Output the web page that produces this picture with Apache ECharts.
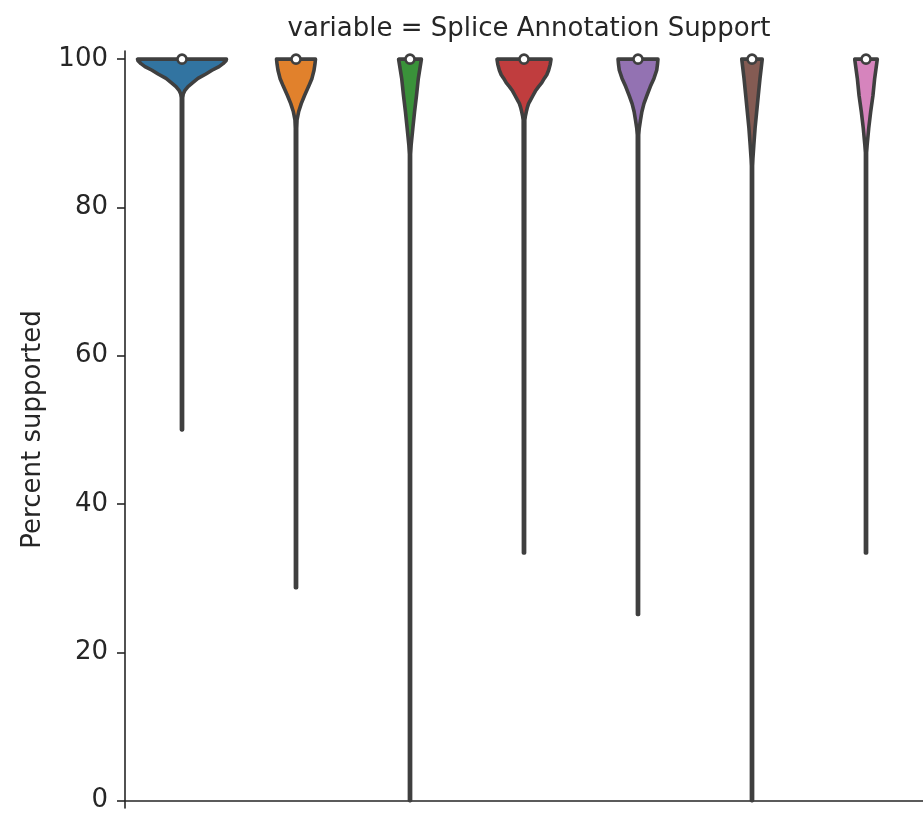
<!DOCTYPE html>
<html><head><meta charset="utf-8">
<script src="https://cdn.jsdelivr.net/npm/echarts@6/dist/echarts.min.js"></script>
<style>html,body{margin:0;padding:0;background:#fff}#c{width:923px;height:814px}</style>
</head><body><div id="c"></div>
<script>
// categories (x tick labels are not visible in the reference)
const categories = ['c1','c2','c3','c4','c5','c6','c7'];
const colors = ['#3274a1','#e1812c','#3a923a','#c03d3e','#9372b2','#845b53','#d684bd'];
const medians = [100,100,100,100,100,100,100];
const yTicks = [0,20,40,60,80,100];
// violin outlines: [value, half-width in category units], from top to the minimum
const violin1 = [[100,0.39],[99.8,0.386],[99.4,0.36],[99.0,0.325],[98.5,0.263],[98.0,0.21],[97.4,0.14],[96.8,0.092],[96.3,0.053],[95.8,0.026],[95.3,0.011],[94.8,0.006],[50,0.005]];
const violin2 = [[100,0.171],[99.3,0.166],[98.5,0.158],[97.4,0.14],[96.3,0.11],[95.1,0.075],[94.0,0.046],[92.9,0.023],[91.8,0.009],[90.7,0.006],[28.7,0.005]];
const violin3 = [[100,0.10],[97.4,0.073],[95.1,0.057],[92.9,0.04],[90.7,0.025],[88.4,0.01],[87.2,0.005],[0,0.005]];
const violin4 = [[100,0.237],[99.3,0.23],[98.5,0.216],[97.9,0.2],[97.4,0.178],[96.8,0.155],[96.3,0.128],[95.7,0.1],[95.1,0.079],[94.5,0.058],[94.0,0.04],[93.4,0.028],[92.9,0.02],[92.3,0.012],[91.8,0.007],[33.4,0.005]];
const violin5 = [[100,0.175],[99.3,0.171],[98.5,0.164],[97.4,0.14],[96.3,0.108],[95.1,0.078],[94.0,0.052],[92.9,0.034],[91.8,0.022],[90.7,0.011],[89.8,0.006],[25.1,0.005]];
const violin6 = [[100,0.09],[97.4,0.07],[95.1,0.055],[92.9,0.041],[90.7,0.027],[88.4,0.016],[86.6,0.008],[85.6,0.005],[0,0.005]];
const violin7 = [[100,0.099],[97.4,0.076],[95.1,0.061],[92.9,0.041],[90.7,0.024],[88.4,0.01],[87.4,0.005],[33.4,0.005]];
const violins = [violin1,violin2,violin3,violin4,violin5,violin6,violin7];

const FONT = 'DejaVu Sans';
const TXT = '#262626';
const EDGE = '#3f3f3f';

const chart = echarts.init(document.getElementById('c'), null, {renderer:'canvas'});

function renderViolin(params, api){
  const i = api.value(0);
  const prof = violins[i];
  const band = api.size([1,0])[0];
  const right = [], left = [];
  for (const [v,w] of prof){
    const p = api.coord([i, v]);
    right.push([p[0] + w*band, p[1]]);
    left.push([p[0] - w*band, p[1]]);
  }
  const pts = right.concat(left.reverse());
  return {
    type:'polygon',
    shape:{points:pts},
    style:{fill:colors[i], stroke:EDGE, lineWidth:3.6, lineJoin:'round'}
  };
}

chart.setOption({
  animation:false,
  title:{text:'variable = Splice Annotation Support', left:524, top:11, textAlign:'center',
    textStyle:{fontFamily:FONT, fontSize:26, fontWeight:'normal', color:TXT}},
  grid:{left:125, right:0, top:51, bottom:6, containLabel:false},
  xAxis:{type:'category', data:categories, boundaryGap:true,
    axisLine:{lineStyle:{color:TXT, width:1.6}},
    axisTick:{alignWithLabel:true, length:8, lineStyle:{color:TXT, width:1.6}},
    axisLabel:{show:false}, splitLine:{show:false}},
  yAxis:{type:'value', min:-1.0, max:101.1,
    name:'Percent supported', nameLocation:'middle', nameRotate:90, nameGap:79,
    nameTextStyle:{fontFamily:FONT, fontSize:26, color:TXT},
    axisLine:{show:true, lineStyle:{color:TXT, width:1.6}},
    axisTick:{show:true, length:8, customValues:yTicks, lineStyle:{color:TXT, width:1.6}},
    axisLabel:{customValues:yTicks, fontFamily:FONT, fontSize:26, color:TXT, margin:17},
    splitLine:{show:false}},
  series:[
    {type:'custom', renderItem:renderViolin, data:categories.map((c,i)=>[i]), z:2},
    {type:'scatter', data:medians.map((m,i)=>[i,m]), symbol:'circle', symbolSize:9, z:3,
      itemStyle:{color:'#ffffff', borderColor:EDGE, borderWidth:2.6, opacity:1}}
  ]
});
</script></body></html>
